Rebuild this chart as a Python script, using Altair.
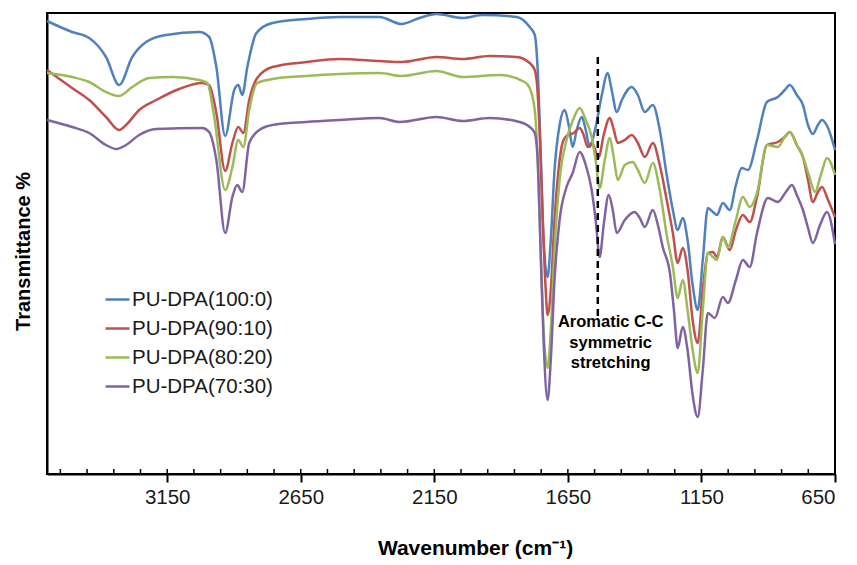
import altair as alt
import pandas as pd

FONT = "Liberation Sans, Arial, sans-serif"

series_names = ["PU-DPA(100:0)", "PU-DPA(90:10)", "PU-DPA(80:20)", "PU-DPA(70:30)"]
series_colors = ["#4F81BD", "#C0504D", "#9BBB59", "#8064A2"]

blue_wn = [3600, 3506, 3442, 3379, 3330, 3281, 3229, 3154, 3030, 2993, 2966, 2933, 2899, 2884, 2869, 2850,
           2816, 2756, 2629, 2505, 2355, 2273, 2206, 2142, 2044, 1969, 1842, 1793, 1774, 1763, 1752, 1741,
           1726, 1714, 1700, 1681, 1662, 1647, 1632, 1617, 1598, 1583, 1568, 1553, 1542, 1523, 1501, 1486,
           1467, 1448, 1411, 1388, 1362, 1332, 1306, 1280, 1257, 1239, 1220, 1202, 1183, 1164, 1145, 1126,
           1107, 1092, 1070, 1044, 1021, 999, 976, 942, 905, 864, 838, 819, 793, 770, 751, 733, 714, 699,
           676, 650]
blue_t = [90.6, 88.4, 87.2, 83.4, 77.8, 83.4, 86.4, 87.8, 88.4, 87.4, 81.4, 67.6, 76.8, 77.8, 75.8, 81.4,
          88.2, 90.2, 91.0, 91.4, 91.4, 90.0, 91.2, 92.0, 91.2, 91.8, 91.4, 89.4, 87.8, 80.8, 64.8, 46.8,
          39.4, 46.8, 60.8, 69.8, 72.8, 69.8, 65.4, 68.8, 71.4, 68.8, 65.4, 67.8, 70.4, 75.8, 80.2, 76.8,
          72.4, 74.8, 77.4, 75.8, 72.4, 73.8, 68.8, 59.8, 52.8, 48.8, 51.2, 46.8, 37.8, 32.8, 42.8, 53.2,
          52.4, 51.8, 54.2, 52.8, 57.8, 61.2, 60.8, 66.8, 74.4, 75.4, 76.8, 77.8, 75.8, 73.8, 69.8, 68.0,
          69.8, 70.8, 69.2, 64.8]

red_wn = [3600, 3506, 3442, 3379, 3330, 3304, 3255, 3191, 3105, 3019, 2993, 2966, 2933, 2906, 2884, 2865,
          2843, 2813, 2756, 2629, 2505, 2355, 2273, 2142, 2044, 1943, 1842, 1793, 1774, 1767, 1756, 1744,
          1733, 1726, 1714, 1700, 1685, 1670, 1651, 1628, 1606, 1591, 1576, 1561, 1550, 1535, 1516, 1493,
          1478, 1463, 1437, 1411, 1388, 1362, 1332, 1306, 1280, 1257, 1239, 1220, 1202, 1183, 1164, 1145,
          1126, 1107, 1092, 1070, 1044, 1021, 995, 969, 942, 905, 864, 838, 819, 793, 770, 751, 733, 714,
          699, 676, 650]
red_t = [80.8, 77.2, 74.8, 71.4, 68.8, 69.8, 72.8, 74.8, 77.0, 78.2, 77.8, 72.2, 60.6, 66.2, 69.4, 68.2,
         74.8, 79.2, 81.4, 82.4, 83.0, 82.6, 82.4, 83.4, 83.0, 83.6, 83.4, 82.2, 80.8, 78.8, 68.8, 50.8,
         36.8, 31.8, 36.8, 50.8, 60.8, 66.2, 67.8, 68.2, 69.2, 67.8, 65.4, 66.2, 65.2, 63.2, 67.8, 71.2,
         68.8, 66.2, 66.8, 67.8, 66.2, 63.4, 66.2, 61.8, 54.8, 48.2, 42.2, 45.2, 40.8, 30.8, 26.2, 36.8,
         44.2, 44.4, 43.4, 47.4, 44.8, 48.8, 51.8, 50.4, 55.4, 65.8, 66.4, 67.4, 68.4, 65.8, 63.4, 58.8,
         54.4, 56.4, 57.4, 54.8, 51.4]

green_wn = [3600, 3506, 3442, 3379, 3330, 3281, 3217, 3131, 3030, 3000, 2974, 2933, 2906, 2884, 2865, 2843,
            2813, 2756, 2629, 2505, 2355, 2273, 2142, 2044, 1906, 1812, 1793, 1774, 1763, 1752, 1741, 1726,
            1714, 1700, 1681, 1655, 1628, 1606, 1583, 1561, 1546, 1531, 1512, 1493, 1478, 1463, 1437, 1407,
            1388, 1362, 1332, 1306, 1280, 1257, 1239, 1220, 1202, 1183, 1164, 1145, 1126, 1107, 1092, 1070,
            1051, 1021, 995, 969, 942, 905, 864, 838, 819, 793, 770, 748, 725, 703, 680, 650]
green_t = [80.2, 79.4, 78.4, 76.4, 75.6, 77.4, 79.2, 79.4, 78.8, 78.2, 71.4, 56.8, 61.4, 66.8, 65.4, 72.8,
           78.2, 79.0, 79.6, 80.0, 80.2, 79.6, 80.6, 79.4, 79.8, 78.4, 77.2, 72.8, 62.8, 44.8, 28.8, 21.2,
           28.8, 44.8, 58.8, 66.8, 71.2, 73.2, 70.8, 67.4, 62.8, 57.2, 62.8, 67.2, 63.2, 58.8, 61.8, 62.4,
           60.8, 58.2, 62.2, 56.8, 47.8, 41.4, 35.2, 38.8, 32.8, 24.8, 20.2, 32.8, 44.2, 43.4, 42.8, 47.4,
           45.4, 50.8, 55.4, 53.4, 56.2, 65.8, 65.4, 67.4, 68.4, 65.8, 63.4, 59.8, 56.4, 59.8, 63.2, 59.8]

purple_wn = [3600, 3506, 3442, 3379, 3341, 3304, 3255, 3191, 3019, 2993, 2966, 2933, 2906, 2888, 2869, 2843,
             2805, 2756, 2629, 2505, 2355, 2280, 2142, 2044, 1943, 1831, 1793, 1774, 1763, 1752, 1741, 1726,
             1714, 1700, 1681, 1655, 1632, 1606, 1583, 1561, 1546, 1531, 1516, 1497, 1482, 1467, 1437, 1400,
             1381, 1362, 1332, 1313, 1295, 1268, 1253, 1239, 1220, 1202, 1183, 1164, 1145, 1126, 1100, 1070,
             1051, 1021, 995, 969, 942, 901, 864, 834, 811, 793, 770, 751, 733, 706, 680, 650]
purple_t = [70.8, 69.4, 68.2, 65.8, 65.0, 65.8, 67.8, 69.0, 69.2, 68.4, 62.8, 48.2, 55.4, 57.8, 56.4, 66.2,
            68.8, 69.8, 70.4, 70.8, 71.2, 70.4, 71.4, 70.6, 71.2, 70.4, 69.4, 68.2, 62.8, 44.8, 26.8, 14.8,
            22.8, 38.8, 50.8, 57.4, 60.2, 64.4, 61.8, 56.8, 50.8, 43.4, 49.8, 55.8, 52.8, 48.2, 50.8, 52.4,
            51.2, 49.4, 52.8, 49.8, 45.4, 40.2, 32.8, 25.2, 29.4, 24.8, 15.8, 11.4, 20.8, 32.2, 31.2, 35.4,
            34.2, 38.8, 42.8, 41.4, 48.2, 55.2, 54.4, 56.4, 57.8, 55.8, 52.8, 49.2, 46.2, 49.8, 52.4, 46.0]

major_ticks = [3150, 2650, 2150, 1650, 1150, 650]
minor_ticks = list(range(3550, 649, -100)) + [650]

annot_wn = [1538]
annot_top = [83.4]
annot_bottom = [31.4]
annot_lines = ["Aromatic C-C", "symmetric", "stretching"]
annot_text_wn = [1490]
annot_text_t = [32.0]

frames = []
for name, wn, t in [(series_names[0], blue_wn, blue_t), (series_names[1], red_wn, red_t),
                    (series_names[2], green_wn, green_t), (series_names[3], purple_wn, purple_t)]:
    frames.append(pd.DataFrame({"wavenumber": wn, "transmittance": t, "series": name}))
df = pd.concat(frames, ignore_index=True)

x_scale = alt.Scale(domain=[650, 3600], reverse=True, nice=False, zero=False)
y_scale = alt.Scale(domain=[0, 92.2], nice=False, zero=False)

lines = alt.Chart(df).mark_line(interpolate="monotone", strokeWidth=2.5).encode(
    x=alt.X("wavenumber:Q", scale=x_scale,
            axis=alt.Axis(values=major_ticks, title="Wavenumber (cm⁻¹)", format="d",
                          tickSize=8, tickWidth=2, tickColor="black",
                          domainColor="black", domainWidth=2,
                          labelFont=FONT, labelFontSize=20.5, labelColor="#1a1a1a", labelPadding=5,
                          titleFont=FONT, titleFontSize=21, titleFontWeight="bold", titleColor="black",
                          titlePadding=30, titleX=428, grid=False)),
    y=alt.Y("transmittance:Q", scale=y_scale,
            axis=alt.Axis(labels=False, ticks=False, title="Transmittance %",
                          domainColor="black", domainWidth=2,
                          titleFont=FONT, titleFontSize=20, titleFontWeight="bold", titleColor="black",
                          titlePadding=14, titleY=238, grid=False)),
    color=alt.Color("series:N", scale=alt.Scale(domain=series_names, range=series_colors),
                    legend=alt.Legend(title=None, orient="none", legendX=57, legendY=273,
                                      symbolType="stroke", symbolSize=576, symbolStrokeWidth=2.5,
                                      labelFont=FONT, labelFontSize=20.5, labelColor="#1a1a1a",
                                      labelOffset=1, rowPadding=5, padding=0)),
    detail="series:N",
)

tick_df = pd.DataFrame({"wavenumber": minor_ticks})
inner_ticks = alt.Chart(tick_df).mark_rule(strokeWidth=1.5, color="black").encode(
    x=alt.X("wavenumber:Q", scale=x_scale),
    y=alt.value(456),
    y2=alt.value(461),
)

rule_df = pd.DataFrame({"wavenumber": annot_wn, "top": annot_top, "bottom": annot_bottom})
rule = alt.Chart(rule_df).mark_rule(strokeDash=[7, 5], strokeWidth=2.5, color="black").encode(
    x=alt.X("wavenumber:Q", scale=x_scale),
    y=alt.Y("top:Q", scale=y_scale),
    y2="bottom:Q",
)

text_df = pd.DataFrame({"wavenumber": annot_text_wn, "t": annot_text_t})
text = alt.Chart(text_df).mark_text(text=annot_lines, font=FONT, fontSize=16.5, fontWeight="bold",
                                    lineHeight=20.5, baseline="top", align="center", color="black").encode(
    x=alt.X("wavenumber:Q", scale=x_scale),
    y=alt.Y("t:Q", scale=y_scale),
)

chart = alt.layer(lines, inner_ticks, rule, text).properties(
    width=788, height=461, autosize="none",
    padding={"left": 39, "top": 5, "right": 14, "bottom": 87},
).configure_view(stroke="black", strokeWidth=2)

chart.save("out.html", embed_options={"renderer": "svg", "actions": False})
